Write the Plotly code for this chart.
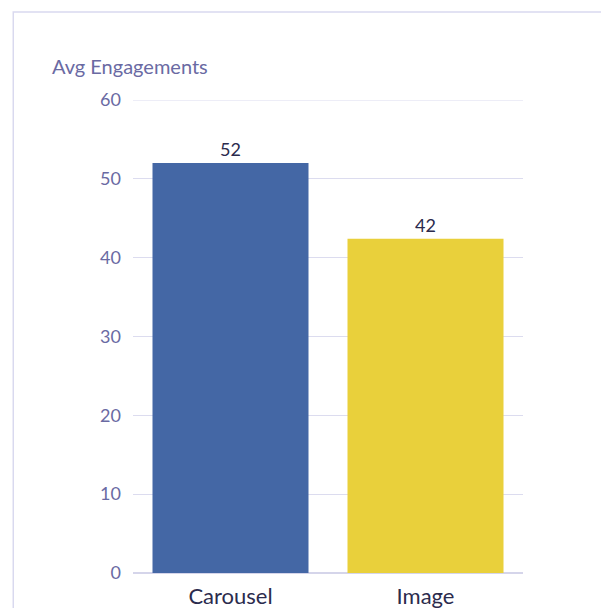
import plotly.graph_objects as go

categories = ["Carousel", "Image"]
avg_engagements = [52, 42.4]
bar_colors = ["#4467a5", "#e9d03b"]
y_ticks = [0, 10, 20, 30, 40, 50, 60]

fig = go.Figure(go.Bar(
    x=categories, y=avg_engagements,
    marker=dict(color=bar_colors, line=dict(width=0)),
    texttemplate="%{y:.0f}", textposition="outside",
    textfont=dict(size=18, color="#2b2b4d", family="Lato"),
    cliponaxis=False,
))

fig.update_layout(
    width=601, height=608,
    margin=dict(l=133, r=78, t=100, b=35),
    paper_bgcolor="white", plot_bgcolor="white",
    bargap=0.2, showlegend=False,
    font=dict(family="Lato"),
    shapes=[dict(type="rect", xref="paper", yref="paper",
                 x0=-0.307, x1=1.5, y0=-0.2, y1=1.186,
                 line=dict(color="#d9d9ef", width=1.5), layer="below"),
            dict(type="line", xref="paper", yref="y",
                 x0=0, x1=1, y0=y_ticks[-1], y1=y_ticks[-1],
                 line=dict(color="#dcdcef", width=1.2), layer="below")],
    annotations=[dict(text="Avg Engagements", xref="paper", yref="paper",
                      x=-0.213, y=1.072, xanchor="left", yanchor="middle",
                      showarrow=False, font=dict(size=20, color="#6a6aa3", family="Lato"))],
)
fig.update_yaxes(range=[0, 60], tickvals=y_ticks, showgrid=True, gridcolor="#dcdcef",
                 gridwidth=1.2, zeroline=True, zerolinecolor="#d5d5ea", zerolinewidth=1.5,
                 showline=False, ticks="", ticklabelstandoff=11, automargin=False,
                 tickfont=dict(size=18, color="#6a6aa3", family="Lato"))
fig.update_xaxes(showline=False, ticks="", ticklabelstandoff=8, automargin=False,
                 tickfont=dict(size=22, color="#2b2b4d", family="Lato"))

fig.write_html("out.html", config={"displayModeBar": False},
               post_script="document.body.style.margin='0';")
